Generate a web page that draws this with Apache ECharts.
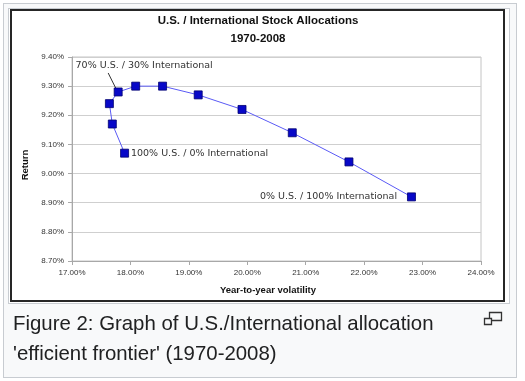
<!DOCTYPE html>
<html>
<head>
<meta charset="utf-8">
<script src="https://cdn.jsdelivr.net/npm/echarts@6/dist/echarts.min.js"></script>
<style>
  html, body { margin: 0; padding: 0; background: #ffffff; }
  #wrap { position: relative; width: 525px; height: 381px; overflow: hidden; }
  .box { position: absolute; box-sizing: border-box; }
  #outer { left: 3px; top: 3px; width: 514px; height: 375px; border: 1px solid #c8ccd1; background: #f8f9fa; }
  #img { left: 8px; top: 8px; width: 502px; height: 296px; border: 1px solid #c8ccd1; background: #ffffff; }
  #frame { left: 10px; top: 9px; width: 495px; height: 293px; border: 2px solid #262626; background: #ffffff; }
  #chart { position: absolute; left: 0; top: 0; width: 525px; height: 381px; }
</style>
</head>
<body>
<div id="wrap">
  <div class="box" id="outer"></div>
  <div class="box" id="img"></div>
  <div class="box" id="frame"></div>
  <div id="chart"></div>
</div>
<script>
// Data (values in percent)
const allocations = [
  '100% U.S. / 0% International',
  '90% U.S. / 10% International',
  '80% U.S. / 20% International',
  '70% U.S. / 30% International',
  '60% U.S. / 40% International',
  '50% U.S. / 50% International',
  '40% U.S. / 60% International',
  '30% U.S. / 70% International',
  '20% U.S. / 80% International',
  '10% U.S. / 90% International',
  '0% U.S. / 100% International'
];
const volatility = [17.90, 17.69, 17.64, 17.79, 18.09, 18.55, 19.16, 19.91, 20.77, 21.74, 22.81];
const returns = [9.07, 9.17, 9.24, 9.28, 9.30, 9.30, 9.27, 9.22, 9.14, 9.04, 8.92];
const titleLines = ['U.S. / International Stock Allocations', '1970-2008'];
const xAxisName = 'Year-to-year volatility';
const yAxisName = 'Return';
const captionLines = ['Figure 2: Graph of U.S./International allocation', "'efficient frontier' (1970-2008)"];

const chart = echarts.init(document.getElementById('chart'), null, { renderer: 'canvas' });

const LEADER_INDEX = 3;
const seriesData = volatility.map((v, i) => {
  const item = { value: [v, returns[i]], name: allocations[i] };
  if (i === 0) {
    item.label = { show: true, position: 'right', distance: 2, formatter: allocations[i] };
  } else if (i === 10) {
    item.label = { show: true, position: 'left', distance: 10, formatter: allocations[i] };
  } else if (i === LEADER_INDEX) {
    item.label = { show: true, position: 'inside', formatter: allocations[i] };
  }
  return item;
});

const pctFmt = v => v.toFixed(2) + '%';

const baseGraphic = [
  { type: 'text', x: 258, y: 21, style: { text: titleLines[0], font: 'bold 11.5px "Liberation Sans"', fill: '#111', textAlign: 'center', textVerticalAlign: 'middle' } },
  { type: 'text', x: 258, y: 39, style: { text: titleLines[1], font: 'bold 11.5px "Liberation Sans"', fill: '#111', textAlign: 'center', textVerticalAlign: 'middle' } },
  { type: 'text', x: 13, y: 324, style: { text: captionLines[0], font: '20.4px "Liberation Sans"', fill: '#202122', textAlign: 'left', textVerticalAlign: 'middle' } },
  { type: 'text', x: 13, y: 354, style: { text: captionLines[1], font: '20.4px "Liberation Sans"', fill: '#202122', textAlign: 'left', textVerticalAlign: 'middle' } },
  { type: 'rect', shape: { x: 489.5, y: 312.5, width: 12, height: 8 }, style: { fill: '#f8f9fa', stroke: '#333', lineWidth: 1.3 } },
  { type: 'rect', shape: { x: 484.5, y: 318.5, width: 7, height: 6 }, style: { fill: '#f8f9fa', stroke: '#333', lineWidth: 1.3 } }
];

chart.setOption({
  backgroundColor: 'transparent',
  animation: false,
  grid: {
    left: 72, right: 44, top: 57, bottom: 120,
    show: true, borderColor: '#c4c4c4', borderWidth: 1, backgroundColor: 'transparent'
  },
  xAxis: {
    type: 'value', min: 17, max: 24, interval: 1,
    name: xAxisName, nameLocation: 'middle', nameGap: 24,
    nameTextStyle: { fontFamily: 'Liberation Sans', fontWeight: 'bold', fontSize: 9.5, color: '#111', padding: [0, 17, 0, 0] },
    axisLine: { show: true, lineStyle: { color: '#a8a8a8', width: 1 } },
    axisTick: { show: true, length: 4, lineStyle: { color: '#a8a8a8' } },
    splitLine: { show: false },
    axisLabel: { formatter: pctFmt, fontFamily: 'Liberation Sans', fontSize: 8, color: '#333', margin: 8 }
  },
  yAxis: {
    type: 'value', min: 8.7, max: 9.4, interval: 0.1,
    name: yAxisName, nameLocation: 'middle', nameGap: 40, nameRotate: 90,
    nameTextStyle: { fontFamily: 'Liberation Sans', fontWeight: 'bold', fontSize: 9.5, color: '#111', padding: [0, 12, 0, 0] },
    axisLine: { show: true, lineStyle: { color: '#a8a8a8', width: 1 } },
    axisTick: { show: true, length: 4, lineStyle: { color: '#a8a8a8' } },
    splitLine: { show: true, lineStyle: { color: '#cfcfcf', width: 1 } },
    axisLabel: { formatter: pctFmt, fontFamily: 'Liberation Sans', fontSize: 8, color: '#333', margin: 8 }
  },
  series: [{
    type: 'line',
    data: seriesData,
    symbol: 'rect',
    symbolSize: 8,
    lineStyle: { color: '#5a5af5', width: 1 },
    itemStyle: { color: '#0808c8', borderColor: '#000070', borderWidth: 0.8 },
    label: { show: false, fontFamily: 'DejaVu Sans', fontSize: 9.5, color: '#333' },
    labelLayout: function (params) {
      if (params.dataIndex === LEADER_INDEX) {
        return { dx: 26, dy: -26 };
      }
      return {};
    },
    emphasis: { disabled: true }
  }],
  graphic: baseGraphic
});

// Leader line for the 70/30 annotation, anchored on the point's pixel position from the axes
const p = chart.convertToPixel({ gridIndex: 0 }, [volatility[LEADER_INDEX], returns[LEADER_INDEX]]);
chart.setOption({
  graphic: baseGraphic.concat([{
    type: 'line', z: 1,
    shape: { x1: p[0] - 10, y1: p[1] - 19, x2: p[0] - 2, y2: p[1] - 3 },
    style: { stroke: '#333', lineWidth: 1 }
  }])
});
</script>
</body>
</html>
